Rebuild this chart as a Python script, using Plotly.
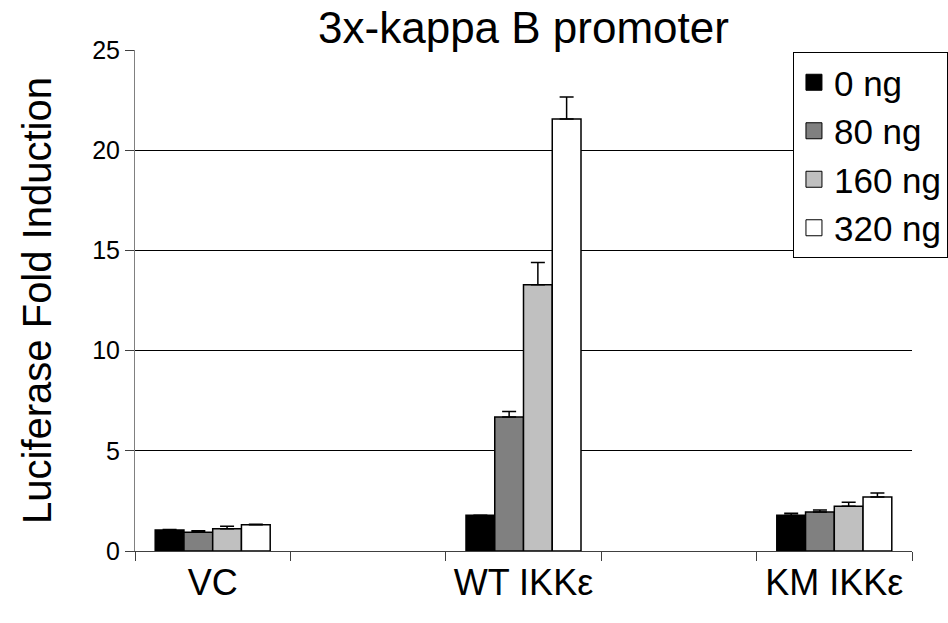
import plotly.graph_objects as go

# Category slots on the x axis (two empty spacer slots between the groups)
categories = ["VC", " ", "WT IKKε", "  ", "KM IKKε"]
groups = ["VC", "WT IKKε", "KM IKKε"]

doses = ["0 ng", "80 ng", "160 ng", "320 ng"]
values = {
    "0 ng":   [1.05, 1.79, 1.78],
    "80 ng":  [0.93, 6.69, 1.95],
    "160 ng": [1.11, 13.29, 2.23],
    "320 ng": [1.31, 21.56, 2.69],
}
errors = {
    "0 ng":   [0.02, 0.0, 0.10],
    "80 ng":  [0.08, 0.27, 0.10],
    "160 ng": [0.12, 1.10, 0.20],
    "320 ng": [0.02, 1.10, 0.20],
}
fills = {"0 ng": "#000000", "80 ng": "#808080", "160 ng": "#c0c0c0", "320 ng": "#ffffff"}

FONT = "Liberation Sans, Arial, sans-serif"

fig = go.Figure()
for d in doses:
    fig.add_trace(go.Bar(
        x=groups, y=values[d], name=d, showlegend=False, legendgroup=d,
        marker=dict(color=fills[d], line=dict(color="#000000", width=1.5)),
        error_y=dict(type="data", symmetric=False, array=errors[d],
                     arrayminus=[0] * len(groups), color="#000000",
                     thickness=1.5, width=7),
    ))
# Legend entries with larger square swatches
for d in doses:
    fig.add_trace(go.Scatter(
        x=[None], y=[None], mode="markers", name=d, legendgroup=d,
        marker=dict(symbol="square", size=16, color=fills[d],
                    line=dict(color="#000000", width=1)),
    ))

fig.update_layout(
    width=948, height=623,
    margin=dict(l=135, r=36, t=50, b=72, autoexpand=False),
    paper_bgcolor="#ffffff", plot_bgcolor="#ffffff",
    font=dict(family=FONT, color="#000000"),
    barmode="group", bargap=0.26, bargroupgap=0,
    title=dict(text="3x-kappa B promoter", x=0.5, xref="paper", xanchor="center",
               y=1 - 28 / 623, yref="container", yanchor="middle",
               font=dict(size=44, family=FONT, color="#000000")),
    legend=dict(x=0.8468, y=0.996, xanchor="left", yanchor="top",
                bgcolor="#ffffff", bordercolor="#000000", borderwidth=1,
                font=dict(size=35, family=FONT, color="#000000"),
                tracegroupgap=0, itemsizing="trace"),
    xaxis=dict(type="category", categoryorder="array", categoryarray=categories,
               tickmode="array", tickvals=categories, ticktext=categories,
               tickson="boundaries", ticks="outside", ticklen=9, tickcolor="#404040",
               showline=True, linecolor="#404040", linewidth=1,
               showgrid=False, range=[-0.5, 4.5],
               tickfont=dict(size=36, family=FONT, color="#000000")),
    yaxis=dict(range=[0, 25], tickvals=[0, 5, 10, 15, 20, 25],
               ticks="outside", ticklen=9, tickcolor="#404040",
               showline=True, linecolor="#808080", linewidth=1,
               showgrid=True, gridcolor="#000000", gridwidth=1,
               zeroline=False,
               tickfont=dict(size=25, family=FONT, color="#000000"),
               title=dict(text="Luciferase Fold Induction", standoff=28,
                          font=dict(size=40, family=FONT, color="#000000"))),
)

fig.write_html("out.html")
